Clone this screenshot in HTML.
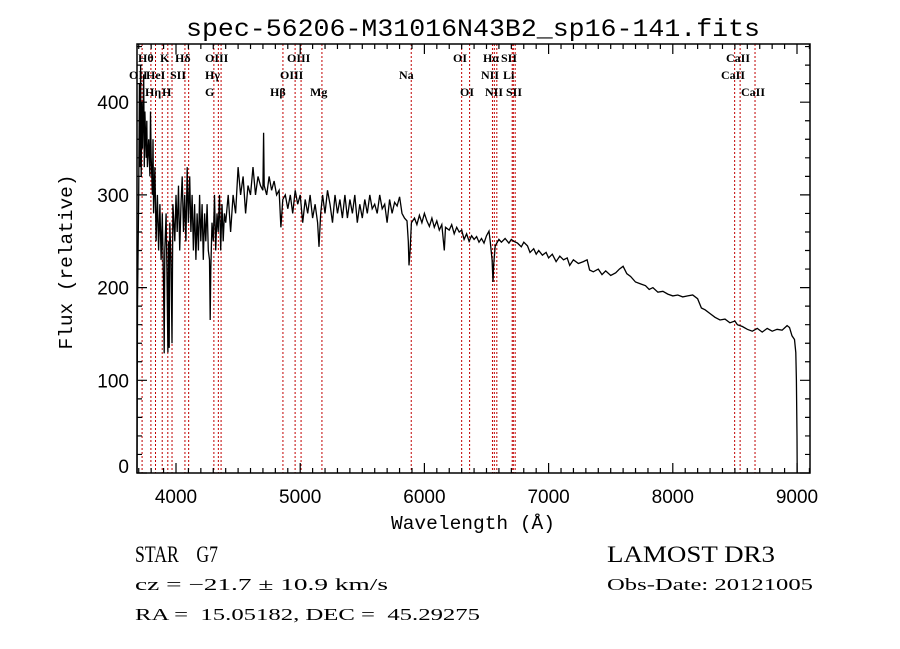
<!DOCTYPE html>
<html><head><meta charset="utf-8"><style>
html,body{margin:0;padding:0;background:#fff;}
svg{display:block;}
text{fill:#000;white-space:pre;}
</style></head><body>
<svg id="chart" width="900" height="649" xmlns="http://www.w3.org/2000/svg" xml:space="preserve">
<rect x="0" y="0" width="900" height="649" fill="#fff"/>
<text x="473" y="36" text-anchor="middle" font-family="Liberation Mono, monospace" font-size="25" textLength="574" lengthAdjust="spacingAndGlyphs">spec-56206-M31016N43B2_sp16-141.fits</text>
<g id="lines"></g>
<path id="spec" fill="none" stroke="#000" stroke-width="1.3" stroke-linejoin="miter"/>
<g id="axes"></g>
<g id="labels" font-family="Liberation Serif, serif" font-size="12" font-weight="bold"></g>
<text transform="translate(72,262) rotate(-90)" text-anchor="middle" font-family="Liberation Mono, monospace" font-size="19" textLength="175" lengthAdjust="spacingAndGlyphs">Flux (relative)</text>
<text x="473" y="529" text-anchor="middle" font-family="Liberation Mono, monospace" font-size="19" textLength="164" lengthAdjust="spacingAndGlyphs">Wavelength (Å)</text>
<g font-family="Liberation Serif, serif">
<text x="135" y="562" font-size="23" textLength="83" lengthAdjust="spacingAndGlyphs">STAR    G7</text>
<text x="607" y="562" font-size="23" textLength="168" lengthAdjust="spacingAndGlyphs">LAMOST DR3</text>
<text x="135" y="590" font-size="17" textLength="253" lengthAdjust="spacingAndGlyphs">cz = −21.7 ± 10.9 km/s</text>
<text x="607" y="590" font-size="17" textLength="206" lengthAdjust="spacingAndGlyphs">Obs-Date: 20121005</text>
<text x="135" y="620" font-size="17" textLength="345" lengthAdjust="spacingAndGlyphs">RA =  15.05182, DEC =  45.29275</text>
</g>
</svg>
<script>
const wavelengths=[3686,3690,3700,3705,3710,3715,3720,3725,3730,3740,3745,3750,3760,3765,3770,3780,3790,3795,3800,3810,3815,3820,3830,3840,3850,3860,3870,3880,3890,3900,3905,3910,3920,3927,3935,3940,3945,3950,3960,3968,3975,3990,4000,4010,4020,4030,4040,4050,4060,4070,4080,4090,4100,4110,4120,4130,4140,4150,4160,4170,4180,4190,4200,4210,4220,4230,4240,4250,4260,4270,4275,4280,4290,4300,4310,4320,4330,4340,4350,4360,4370,4380,4390,4400,4420,4440,4460,4480,4500,4520,4540,4560,4580,4600,4620,4640,4660,4680,4700,4705,4710,4730,4750,4770,4790,4810,4830,4845,4860,4880,4900,4920,4940,4960,4980,5000,5020,5040,5060,5080,5100,5120,5140,5151,5165,5180,5200,5220,5240,5260,5280,5300,5320,5340,5360,5380,5400,5420,5440,5460,5480,5500,5520,5540,5560,5580,5600,5620,5640,5660,5680,5700,5720,5740,5760,5780,5800,5820,5840,5860,5870,5876,5885,5895,5920,5940,5960,5980,6000,6020,6040,6060,6080,6100,6120,6140,6160,6170,6200,6220,6240,6260,6280,6300,6320,6340,6360,6380,6400,6420,6440,6460,6480,6500,6520,6530,6545,6552,6558,6570,6600,6620,6650,6680,6700,6720,6750,6780,6800,6830,6850,6880,6900,6920,6950,6980,7000,7030,7060,7090,7120,7150,7170,7200,7240,7280,7310,7330,7360,7400,7430,7460,7500,7540,7570,7600,7630,7660,7700,7740,7780,7810,7840,7880,7920,7960,8000,8040,8080,8120,8160,8200,8230,8260,8300,8340,8380,8420,8460,8500,8520,8560,8600,8640,8680,8720,8760,8800,8840,8880,8920,8940,8960,8980,8990,8995,9000,9002];
const flux=[0,180,300,420,330,440,320,400,350,430,330,390,340,380,330,360,320,390,340,300,360,280,330,250,300,240,290,230,280,200,129,240,280,220,130,250,135,270,230,140,290,250,300,260,310,240,290,320,260,300,250,330,270,320,260,300,240,290,230,280,240,300,250,290,230,280,250,290,240,230,165,220,270,250,300,240,280,260,300,240,290,250,280,270,300,260,300,280,330,300,320,280,310,300,330,300,320,310,305,367,310,300,320,305,315,300,305,265,295,300,285,300,280,305,290,300,270,295,280,300,275,290,270,244,280,300,280,305,290,270,300,280,295,275,300,275,295,280,300,270,290,275,295,280,300,285,290,280,300,285,290,270,295,280,292,288,298,280,275,272,250,224,240,270,275,268,278,270,280,272,266,275,265,272,262,268,240,265,262,268,258,265,260,262,252,258,250,256,252,255,249,253,248,256,261,250,230,206,225,245,252,249,253,248,252,250,248,244,249,245,238,242,236,240,235,238,232,236,228,234,230,232,224,230,226,228,230,219,217,220,214,218,213,216,220,223,215,212,206,204,202,198,200,195,196,193,191,192,190,191,192,188,178,176,172,168,165,166,162,164,160,158,155,153,156,152,156,153,155,154,159,157,148,144,130,100,40,0];
const lineWaves=[3727,3798,3835,3889,3934,3968,4072,4102,4305,4341,4363,4861,4959,5007,5175,5894,6300,6364,6548,6563,6583,6707,6716,6731,8498,8542,8662];
const lineNames=["OII","Hθ","Hη","HeI","K","H","SII","Hδ","G","Hγ","OIII","Hβ","OIII","OIII","Mg","Na","OI","OI","NII","Hα","NII","Li","SII","SII","CaII","CaII","CaII"];
const labelRows=[2,1,3,2,1,3,2,1,3,2,1,3,2,1,3,2,1,3,2,1,3,2,1,3,2,1,3];
const labelXs=[129,138,145,146,160,162,170,175,205,205,205,270,280,287,310,399,453,460,481,483,485,503,501,506,721,726,741];
const xTicks=[4000,5000,6000,7000,8000,9000];
const yTicks=[0,100,200,300,400];

const L=137,R=810,T=44,B=473;
const xS=w=>176+(w-4000)*0.1242;
const yS=f=>B-f*0.927;
const NS='http://www.w3.org/2000/svg';
function mk(tag,attrs,parent){const e=document.createElementNS(NS,tag);for(const k in attrs)e.setAttribute(k,attrs[k]);parent.appendChild(e);return e;}

const lg=document.getElementById('lines');
lineWaves.forEach((w,i)=>{
  const ln=mk('line',{x1:xS(w),x2:xS(w),y1:T,y2:B,stroke:'#c00000','stroke-width':1,'stroke-dasharray':'2,2'},lg);
  
  
});
const lab=document.getElementById('labels');
lineNames.forEach((n,i)=>{
  const t=mk('text',{x:labelXs[i],y:62+(labelRows[i]-1)*17},lab);
  t.textContent=n;
  
  
});

let d='';
wavelengths.forEach((w,i)=>{d+=(i?'L':'M')+xS(w).toFixed(1)+','+yS(flux[i]).toFixed(1);});
document.getElementById('spec').setAttribute('d',d);

const ax=document.getElementById('axes');
const fr=mk('rect',{x:L,y:T,width:R-L,height:B-T,fill:'none',stroke:'#000','stroke-width':1.5},ax);


let tk='';
for(let w=3700;w<=9100;w+=100){const x=xS(w);if(x<L||x>R)continue;const len=(w%1000===0)?10:5;tk+=`M${x},${B}v${-len}M${x},${T}v${len}`;}
for(let f=0;f<=460;f+=20){const y=yS(f);if(y<T)continue;const len=(f%100===0)?10:5;tk+=`M${L},${y}h${len}M${R},${y}h${-len}`;}
const tp=mk('path',{d:tk,stroke:'#000','stroke-width':1.2,fill:'none'},ax);


xTicks.forEach(w=>{
  const t=mk('text',{x:xS(w),y:503,'text-anchor':'middle','font-family':'Liberation Sans, sans-serif','font-size':19},ax);
  t.textContent=w;
  
  
});
yTicks.forEach(f=>{
  const t=mk('text',{x:129,y:yS(f)+7-(f===0?7:0),'text-anchor':'end','font-family':'Liberation Sans, sans-serif','font-size':19},ax);
  t.textContent=f;
  
  
});
</script>
</body></html>
